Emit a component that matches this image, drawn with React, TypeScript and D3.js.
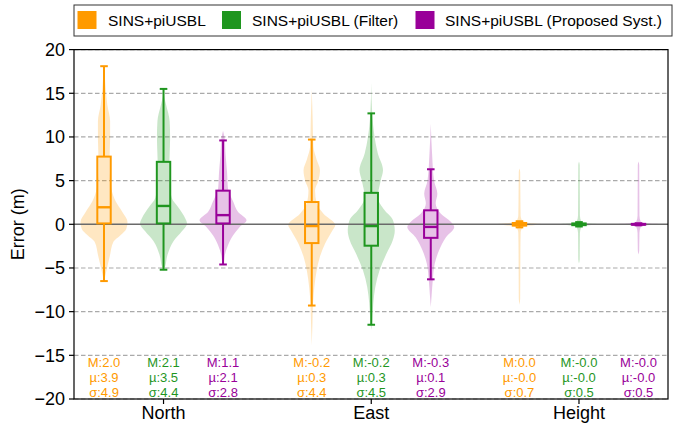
import React from 'react';
import * as d3 from 'd3';

const categories = ['North', 'East', 'Height'];
const seriesNames = ['SINS+piUSBL', 'SINS+piUSBL (Filter)', 'SINS+piUSBL (Proposed Syst.)'];
const seriesColors = ['#FF9A00', '#1F961F', '#990099'];
const yTicks = [-20, -15, -10, -5, 0, 5, 10, 15, 20];

// Box stats per category: [whiskerLow, q1, median, q3, whiskerHigh]
const boxOrange = [[-6.5, 0.1, 1.95, 7.75, 18.1], [-9.3, -2.15, -0.2, 2.55, 9.7], [-0.35, -0.15, 0.0, 0.15, 0.35]];
const boxGreen = [[-5.2, 0.1, 2.1, 7.15, 15.5], [-11.5, -2.45, -0.2, 3.6, 12.7], [-0.25, -0.1, 0.0, 0.1, 0.25]];
const boxPurple = [[-4.6, 0.1, 1.05, 3.85, 9.6], [-6.3, -1.55, -0.3, 1.6, 6.3], [-0.12, -0.05, 0.0, 0.05, 0.12]];

// Violin profiles per category: [value, relative density]
const violinOrange = [
  [[-6.6, 0], [-5.1, 0.12], [-3.6, 0.25], [-2.0, 0.4], [-1.25, 0.7], [-0.5, 0.95], [0.26, 1.0], [1.4, 0.78], [2.6, 0.5], [4.1, 0.31], [6.0, 0.24], [7.9, 0.24], [9.8, 0.26], [11.8, 0.26], [13.7, 0.14], [15.6, 0.07], [17.5, 0.02], [18.1, 0]],
  [[-13.9, 0], [-11.4, 0.03], [-9.1, 0.055], [-7.2, 0.11], [-5.3, 0.21], [-3.7, 0.35], [-2.2, 0.57], [-0.7, 0.88], [-0.1, 1.0], [1.2, 0.5], [2.4, 0.21], [3.9, 0.14], [5.0, 0.28], [6.2, 0.35], [7.4, 0.21], [8.9, 0.07], [12.0, 0.04], [15.5, 0]],
  [[-9.2, 0], [-8.5, 0.03], [-3, 0.04], [-1, 0.05], [-0.4, 0.12], [-0.15, 0.45], [0, 1], [0.15, 0.45], [0.4, 0.12], [1, 0.05], [3, 0.04], [6.0, 0.03], [6.4, 0]],
];
const violinGreen = [
  [[-5.3, 0], [-5.0, 0.05], [-3.5, 0.17], [-1.9, 0.43], [-0.8, 0.78], [0.1, 1.0], [0.7, 0.92], [1.9, 0.64], [3.0, 0.35], [4.2, 0.28], [6.1, 0.24], [8.0, 0.26], [9.9, 0.28], [11.8, 0.26], [13.7, 0.11], [14.6, 0.03], [15.5, 0]],
  [[-12.1, 0], [-11.0, 0.04], [-9.1, 0.085], [-7.2, 0.17], [-5.3, 0.35], [-3.4, 0.64], [-1.8, 0.92], [-0.7, 1.0], [0.5, 0.92], [1.6, 0.57], [3.1, 0.28], [5.0, 0.4], [6.2, 0.5], [8.1, 0.28], [10.0, 0.14], [12.7, 0.04], [16.2, 0]],
  [[-4.5, 0], [-4, 0.03], [-1, 0.04], [-0.3, 0.1], [-0.1, 0.45], [0, 1], [0.1, 0.45], [0.3, 0.1], [1, 0.04], [6.8, 0.03], [7.2, 0]],
];
const violinPurple = [
  [[-4.6, 0], [-4.3, 0.04], [-3.6, 0.07], [-2.4, 0.21], [-1.25, 0.43], [-0.3, 0.71], [0.45, 1.0], [1.4, 0.64], [2.6, 0.43], [4.1, 0.21], [6.0, 0.17], [7.9, 0.11], [9.8, 0.07], [10.7, 0]],
  [[-9.5, 0], [-8.0, 0.04], [-6.4, 0.085], [-4.5, 0.17], [-3.0, 0.35], [-1.5, 0.64], [-0.3, 1.0], [0.3, 0.85], [1.2, 0.43], [2.4, 0.21], [3.5, 0.28], [5.0, 0.14], [8.1, 0.055], [11.5, 0]],
  [[-3.45, 0], [-3, 0.03], [-1, 0.04], [-0.25, 0.1], [-0.08, 0.45], [0, 1], [0.08, 0.45], [0.25, 0.1], [1, 0.04], [6.8, 0.03], [7.2, 0]],
];

// Stats labels per category
const statsOrange = [['M:2.0', 'µ:3.9', 'σ:4.9'], ['M:-0.2', 'µ:0.3', 'σ:4.4'], ['M:0.0', 'µ:-0.0', 'σ:0.7']];
const statsGreen = [['M:2.1', 'µ:3.5', 'σ:4.4'], ['M:-0.2', 'µ:0.3', 'σ:4.5'], ['M:-0.0', 'µ:-0.0', 'σ:0.5']];
const statsPurple = [['M:1.1', 'µ:2.1', 'σ:2.8'], ['M:-0.3', 'µ:0.1', 'σ:2.9'], ['M:-0.0', 'µ:-0.0', 'σ:0.5']];

const seriesBoxes = [boxOrange, boxGreen, boxPurple];
const seriesViolins = [violinOrange, violinGreen, violinPurple];
const seriesStats = [statsOrange, statsGreen, statsPurple];
const seriesOffsets = [-0.2865, 0, 0.2865];

const W = 678;
const H = 424;
const L = 74, R = 668, T = 49.6, B = 399;
const FONT = "'Liberation Sans', Arial, Helvetica, sans-serif";

export default function App() {
  const x = d3.scaleLinear().domain([-0.431, 2.4285]).range([L, R]);
  const y = d3.scaleLinear().domain([-20, 20]).range([B, T]);
  const violinHalf = 23.5;
  const boxHalf = 6.7;
  const capHalf = 3.8;

  const violins: React.ReactNode[] = [];
  const boxes: React.ReactNode[] = [];
  const stats: React.ReactNode[] = [];

  categories.forEach((cat, ci) => {
    seriesNames.forEach((name, si) => {
      const cx = x(ci + seriesOffsets[si]);
      const color = seriesColors[si];
      const prof = seriesViolins[si][ci];
      const area = d3
        .area<number[]>()
        .y((d) => y(d[0]))
        .x0((d) => cx - d[1] * violinHalf)
        .x1((d) => cx + d[1] * violinHalf)
        .curve(d3.curveMonotoneY);
      violins.push(
        <path key={`v${ci}${si}`} d={area(prof) || ''} fill={color} fillOpacity={0.24} stroke="none" />
      );
      const [wl, q1, med, q3, wh] = seriesBoxes[si][ci];
      boxes.push(
        <g key={`b${ci}${si}`} stroke={color} strokeWidth={2} fill="none">
          <line x1={cx} x2={cx} y1={y(q3)} y2={y(wh)} />
          <line x1={cx} x2={cx} y1={y(q1)} y2={y(wl)} />
          <line x1={cx - capHalf} x2={cx + capHalf} y1={y(wh)} y2={y(wh)} />
          <line x1={cx - capHalf} x2={cx + capHalf} y1={y(wl)} y2={y(wl)} />
          <rect x={cx - boxHalf} y={y(q3)} width={boxHalf * 2} height={Math.max(0.01, y(q1) - y(q3))} />
          <line x1={cx - boxHalf} x2={cx + boxHalf} y1={y(med)} y2={y(med)} strokeWidth={2.4} />
        </g>
      );
      seriesStats[si][ci].forEach((s, li) => {
        stats.push(
          <text key={`s${ci}${si}${li}`} x={cx} y={366.5 + li * 15.3} textAnchor="middle" fill={color} fontSize={13} fontFamily={FONT}>
            {s}
          </text>
        );
      });
    });
  });

  const legendItems = [
    { sx: 77.5, tx: 108 },
    { sx: 222, tx: 252 },
    { sx: 415.5, tx: 445 },
  ];

  return (
    <svg width={W} height={H} style={{ position: 'absolute', left: 0, top: 0, background: '#fff' }}>
      <rect x={0} y={0} width={W} height={H} fill="#fff" />
      {/* grid */}
      {yTicks.filter((t) => t !== 0).map((t) => (
        <line key={`g${t}`} x1={L} x2={R} y1={y(t)} y2={y(t)} stroke="#aaaaaa" strokeWidth={1.2} strokeDasharray="4.5,2.5" />
      ))}
      {violins}
      <line x1={L} x2={R} y1={y(0)} y2={y(0)} stroke="#6a6a6a" strokeWidth={1.6} />
      {boxes}
      {/* spines */}
      <rect x={L} y={T} width={R - L} height={B - T} fill="none" stroke="#000" strokeWidth={1.2} />
      {/* y ticks */}
      {yTicks.map((t) => (
        <g key={`yt${t}`}>
          <line x1={L - 5} x2={L} y1={y(t)} y2={y(t)} stroke="#000" strokeWidth={1.2} />
          <text x={L - 9} y={y(t) + 6.4} textAnchor="end" fontSize={18} fontFamily={FONT} fill="#000">
            {t < 0 ? `\u2212${Math.abs(t)}` : `${t}`}
          </text>
        </g>
      ))}
      {/* x ticks */}
      {categories.map((c, i) => (
        <g key={`xt${c}`}>
          <line x1={x(i)} x2={x(i)} y1={B} y2={B + 5} stroke="#000" strokeWidth={1.2} />
          <text x={x(i)} y={419} textAnchor="middle" fontSize={18} fontFamily={FONT} fill="#000">
            {c}
          </text>
        </g>
      ))}
      <text transform={`translate(24,${(T + B) / 2}) rotate(-90)`} textAnchor="middle" fontSize={18} fontFamily={FONT} fill="#000">
        Error (m)
      </text>
      {stats}
      {/* legend */}
      <rect x={74} y={5} width={598} height={31} fill="#fff" stroke="#333" strokeWidth={1} />
      {seriesNames.map((n, i) => (
        <g key={`l${i}`}>
          <rect x={legendItems[i].sx} y={11} width={19} height={18} fill={seriesColors[i]} />
          <text x={legendItems[i].tx} y={25.5} fontSize={15.5} fontFamily={FONT} fill="#000">
            {n}
          </text>
        </g>
      ))}
    </svg>
  );
}
